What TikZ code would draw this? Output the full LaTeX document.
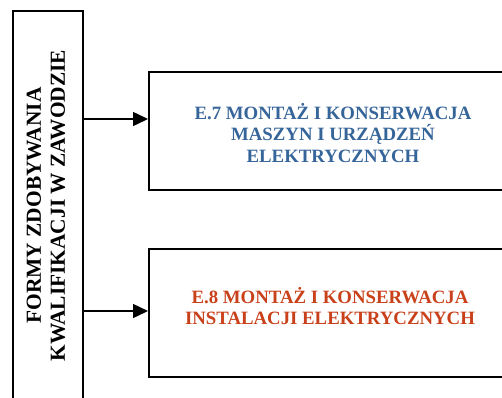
\documentclass[tikz,border=0pt]{standalone}
\usepackage{fontspec}
\setmainfont{Liberation Serif}
\usetikzlibrary{arrows.meta}
\definecolor{eblue}{HTML}{36659A}
\definecolor{ered}{HTML}{C9411A}
\begin{document}
\begin{tikzpicture}[x=1pt,y=-1pt,
  boxline/.style={draw=black,line width=1.5pt},
  arr/.style={line width=1.5pt,-{Triangle[length=15pt,width=14pt]}},
  txt/.style={align=center,font=\bfseries\fontsize{18.8}{21.7}\selectfont,inner sep=0pt}]
\useasboundingbox (0,0) rectangle (502,397);
\clip (0,0) rectangle (502,397);
\node[boxline,minimum width=70pt,minimum height=400pt,inner sep=0pt,anchor=north west] (left) at (12,10) {};
\node[rotate=90,align=center,inner sep=0pt,font=\bfseries\fontsize{21.4}{24}\selectfont] (lt) at (46,205.5) {FORMY ZDOBYWANIA\\KWALIFIKACJI W ZAWODZIE};
\node[boxline,minimum width=370pt,minimum height=118pt,inner sep=0pt,anchor=north west] (e7) at (148,71) {};
\node[boxline,minimum width=370pt,minimum height=128pt,inner sep=0pt,anchor=north west] (e8) at (148,248) {};
\node[txt,text=eblue] (e7t) at (333,133) {E.7 MONTAŻ I KONSERWACJA\\MASZYN I URZĄDZEŃ\\ELEKTRYCZNYCH};
\node[txt,text=ered] (e8t) at (330,306) {E.8 MONTAŻ I KONSERWACJA\\INSTALACJI ELEKTRYCZNYCH};
\coordinate (a1) at (0,119);
\coordinate (a2) at (0,311);
\draw[arr] (left.east |- a1) -- (e7.west |- a1);
\draw[arr] (left.east |- a2) -- (e8.west |- a2);
\end{tikzpicture}
\end{document}
